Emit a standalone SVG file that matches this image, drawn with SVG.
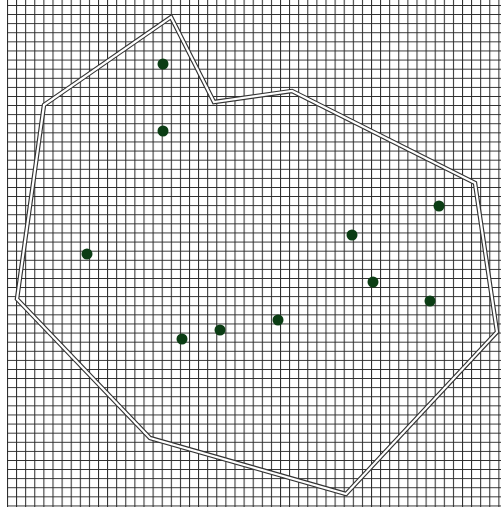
<svg xmlns="http://www.w3.org/2000/svg" width="502" height="508" viewBox="0 0 502 508">
  <defs>
    <pattern id="grid" patternUnits="userSpaceOnUse" x="7" y="5" width="9.1" height="9.1">
      <path d="M0.5 0 V9.1 M0 0.5 H9.1" stroke="#262626" stroke-width="1" fill="none"/>
    </pattern>
    <style>
      .dot { fill: #0b3d14; }
      .outer { fill: none; stroke: #333333; stroke-width: 4.5; stroke-linejoin: miter; }
      .inner { fill: none; stroke: #ffffff; stroke-width: 2.2; stroke-linejoin: miter; }
    </style>
  </defs>
  <rect x="0" y="0" width="502" height="508" fill="#ffffff"/>
  <rect x="7" y="0" width="494" height="507" fill="url(#grid)"/>
  <g id="boundary">
    <polygon class="outer" points="171,17 214,102 292,91 475,183 497,332 346,494 150,438 17,299 44,105"/>
    <polygon class="inner" points="171,17 214,102 292,91 475,183 497,332 346,494 150,438 17,299 44,105"/>
  </g>
  <g id="p1"><circle class="dot" cx="163" cy="64" r="5.5"/></g>
  <g id="p2"><circle class="dot" cx="163" cy="131" r="5.5"/></g>
  <g id="p3"><circle class="dot" cx="87" cy="254" r="5.5"/></g>
  <g id="p4"><circle class="dot" cx="182" cy="339" r="5.5"/></g>
  <g id="p5"><circle class="dot" cx="220" cy="330" r="5.5"/></g>
  <g id="p6"><circle class="dot" cx="278" cy="320" r="5.5"/></g>
  <g id="p7"><circle class="dot" cx="352" cy="235" r="5.5"/></g>
  <g id="p8"><circle class="dot" cx="373" cy="282" r="5.5"/></g>
  <g id="p9"><circle class="dot" cx="430" cy="301" r="5.5"/></g>
  <g id="p10"><circle class="dot" cx="439" cy="206" r="5.5"/></g>
  <g id="connectors"></g>
</svg>
